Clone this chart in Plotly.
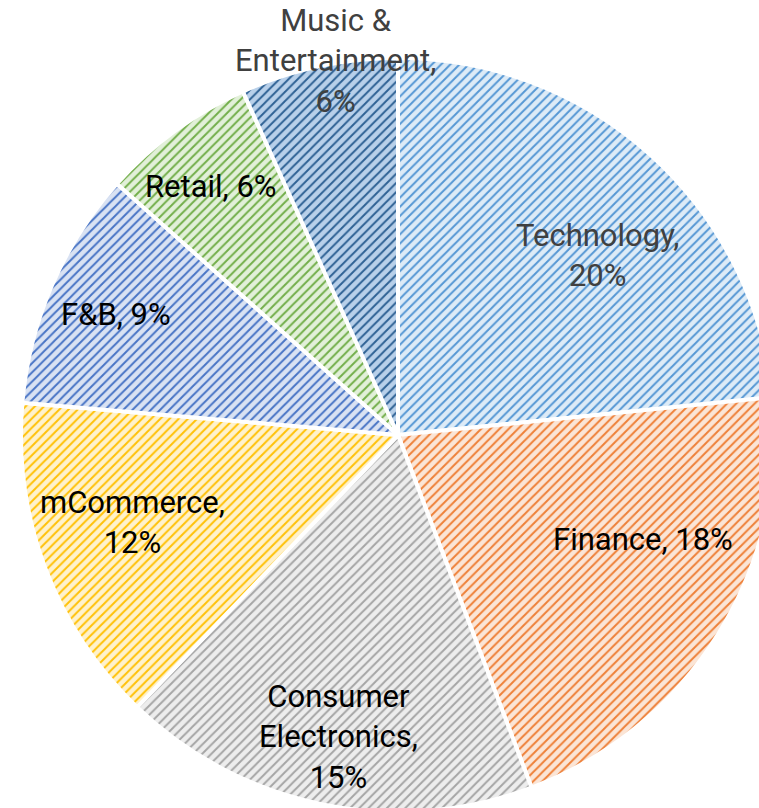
import math
import plotly.graph_objects as go

# ---- data ----
categories = ["Technology", "Finance", "Consumer Electronics", "mCommerce", "F&B", "Retail", "Music & Entertainment"]
# shares; labels show them rounded
values = [20.1, 17.9, 15.4, 12.2, 8.8, 5.7, 5.8]
label_names = ["Technology,", "Finance,", "Consumer<br>Electronics,", "mCommerce,", "F&B,", "Retail,",
               "Music &<br>Entertainment,"]
label_breaks = ["<br>", " ", "<br>", "<br>", " ", " ", "<br>"]

# ---- style ----
line_colors = ["#5597D4", "#EE8038", "#A5A5A5", "#FFC107", "#4874C5", "#72AE4A", "#2E6194"]
bg_colors = ["#DDEBF7", "#FBE5D6", "#EDEDED", "#FFF2CC", "#D9E2F3", "#E2F0D9", "#B8D0EA"]
label_colors = ["#404040", "#000000", "#000000", "#000000", "#000000", "#000000", "#404040"]
# Excel "best fit" label placement tweaks (fraction of radius, angular shift in degrees)
label_radius = [0.712, 0.707, 0.817, 0.741, 0.815, 0.825, 1.006]
label_shift = [6.0, -8.6, -0.3, 2.3, -0.2, -0.8, 2.6]

W, H = 800, 850
R = 377
CX, CY = 398, 435
dom_x = [(CX - R) / W, (CX + R) / W]
dom_y = [(H - (CY + R)) / H, (H - (CY - R)) / H]

fig = go.Figure(go.Pie(
    labels=categories,
    values=values,
    sort=False,
    direction="clockwise",
    rotation=0,
    textinfo="none",
    hoverinfo="label+value",
    showlegend=False,
    domain=dict(x=dom_x, y=dom_y),
    marker=dict(
        colors=bg_colors,
        line=dict(color="white", width=4),
        pattern=dict(shape="/", fgcolor=line_colors, bgcolor=bg_colors,
                     size=6.5, solidity=0.3, fillmode="overlay", fgopacity=1),
    ),
))

total = sum(values)
cum = 0
annotations = []
for i, v in enumerate(values):
    mid = (cum + v / 2) / total * 360 + label_shift[i]
    cum += v
    r = R * label_radius[i]
    px = CX + r * math.sin(math.radians(mid))
    py = CY - r * math.cos(math.radians(mid))
    annotations.append(dict(
        x=px / W, y=1 - py / H, xref="paper", yref="paper",
        text=f"{label_names[i]}{label_breaks[i]}{round(v)}%",
        showarrow=False, xanchor="center", yanchor="middle",
        font=dict(family="Roboto", size=31, color=label_colors[i]),
        align="center",
    ))

fig.update_layout(
    width=W, height=H,
    margin=dict(l=0, r=0, t=0, b=0),
    paper_bgcolor="white", plot_bgcolor="white",
    annotations=annotations,
    font=dict(family="Roboto"),
)

fig.write_html("out.html", config={"displayModeBar": False},
               post_script="document.body.style.margin='0';document.body.style.overflow='hidden';")
